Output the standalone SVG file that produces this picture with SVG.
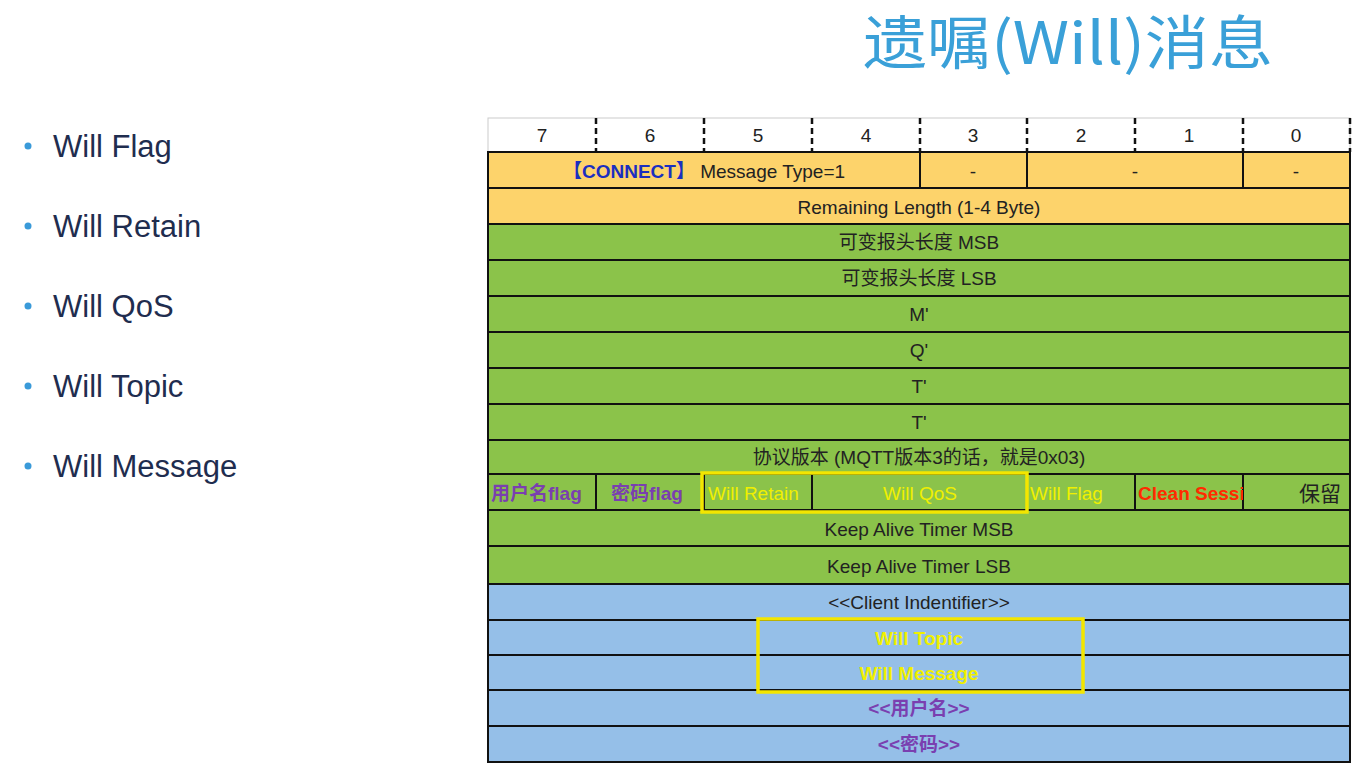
<svg xmlns="http://www.w3.org/2000/svg" width="1359" height="766" viewBox="0 0 1359 766">
<style>
.t{font-family:"Liberation Sans","Noto Sans CJK SC",sans-serif;font-size:19px;text-anchor:middle;fill:#222}
.s{text-anchor:start}
.b{font-family:"Liberation Sans",sans-serif;font-size:31px;fill:#1f2d4f}
.dot{fill:#3a9ad9}
.o{fill:#fdd36b;stroke:#111;stroke-width:2}
.g{fill:#8bc34a;stroke:#111;stroke-width:2}
.u{fill:#95bfe8;stroke:#111;stroke-width:2}
.y{fill:#f0f000}
.p{fill:#7a3fb0;font-weight:bold}
.hl{fill:none;stroke:#f3e600;stroke-width:3.5}
</style>
<defs>
<clipPath id="c0"><rect x="488" y="474" width="108" height="36"/></clipPath>
<clipPath id="c2"><rect x="704" y="474" width="108" height="36"/></clipPath>
<clipPath id="c5"><rect x="1027" y="474" width="108" height="36"/></clipPath>
<clipPath id="c6"><rect x="1135" y="474" width="108" height="36"/></clipPath>
</defs>
<rect width="1359" height="766" fill="#fff"/>
<text x="1068" y="64" font-family="'Noto Sans CJK SC','Liberation Sans',sans-serif" font-size="58" fill="#3aa0d8" text-anchor="middle" textLength="410" lengthAdjust="spacingAndGlyphs">遗嘱(Will)消息</text>
<g id="bullets">
<circle class="dot" cx="28" cy="146" r="3.5"/><text class="b" x="53" y="157">Will Flag</text>
<circle class="dot" cx="28" cy="226" r="3.5"/><text class="b" x="53" y="237">Will Retain</text>
<circle class="dot" cx="28" cy="306" r="3.5"/><text class="b" x="53" y="317">Will QoS</text>
<circle class="dot" cx="28" cy="386" r="3.5"/><text class="b" x="53" y="397">Will Topic</text>
<circle class="dot" cx="28" cy="466" r="3.5"/><text class="b" x="53" y="477">Will Message</text>
</g>
<g id="header">
<rect x="488" y="118" width="862" height="34" fill="#fff" stroke="#ccc" stroke-width="1"/>
<g stroke="#111" stroke-width="2.5" stroke-dasharray="6,4">
<line x1="596" y1="118" x2="596" y2="152"/><line x1="704" y1="118" x2="704" y2="152"/><line x1="812" y1="118" x2="812" y2="152"/><line x1="920" y1="118" x2="920" y2="152"/><line x1="1027" y1="118" x2="1027" y2="152"/><line x1="1135" y1="118" x2="1135" y2="152"/><line x1="1243" y1="118" x2="1243" y2="152"/><line x1="1350" y1="118" x2="1350" y2="152"/>
</g>
<text class="t" x="542" y="142">7</text><text class="t" x="650" y="142">6</text><text class="t" x="758" y="142">5</text><text class="t" x="866" y="142">4</text><text class="t" x="973" y="142">3</text><text class="t" x="1081" y="142">2</text><text class="t" x="1189" y="142">1</text><text class="t" x="1296" y="142">0</text>
</g>
<g id="fixed">
<rect class="o" x="488" y="152" width="432" height="36"/><rect class="o" x="920" y="152" width="107" height="36"/><rect class="o" x="1027" y="152" width="216" height="36"/><rect class="o" x="1243" y="152" width="107" height="36"/>
<text class="t" x="704" y="178"><tspan style="fill:#1a2fc0;font-weight:bold">【CONNECT】</tspan> Message Type=1</text>
<text class="t" x="973" y="178">-</text><text class="t" x="1135" y="178">-</text><text class="t" x="1296" y="178">-</text>
<rect class="o" x="488" y="188" width="862" height="36"/>
<text class="t" x="919" y="214">Remaining Length (1-4 Byte)</text>
</g>
<g id="variable">
<rect class="g" x="488" y="224" width="862" height="36"/><text class="t" x="919" y="249">可变报头长度 MSB</text>
<rect class="g" x="488" y="260" width="862" height="36"/><text class="t" x="919" y="285">可变报头长度 LSB</text>
<rect class="g" x="488" y="296" width="862" height="36"/><text class="t" x="919" y="321">M'</text>
<rect class="g" x="488" y="332" width="862" height="36"/><text class="t" x="919" y="357">Q'</text>
<rect class="g" x="488" y="368" width="862" height="36"/><text class="t" x="919" y="393">T'</text>
<rect class="g" x="488" y="404" width="862" height="36"/><text class="t" x="919" y="429">T'</text>
<rect class="g" x="488" y="440" width="862" height="34"/><text class="t" x="919" y="464">协议版本 (MQTT版本3的话，就是0x03)</text>
<rect class="g" x="488" y="474" width="108" height="36"/><rect class="g" x="596" y="474" width="108" height="36"/><rect class="g" x="704" y="474" width="108" height="36"/><rect class="g" x="812" y="474" width="215" height="36"/><rect class="g" x="1027" y="474" width="108" height="36"/><rect class="g" x="1135" y="474" width="108" height="36"/><rect class="g" x="1243" y="474" width="107" height="36"/>
<text class="t p s" x="491" y="500" clip-path="url(#c0)">用户名flag</text>
<text class="t p" x="647" y="500">密码flag</text>
<text class="t y s" x="708" y="500" clip-path="url(#c2)">Will Retain</text>
<text class="t y" x="920" y="500">Will QoS</text>
<text class="t y s" x="1030" y="500" clip-path="url(#c5)">Will Flag</text>
<text class="t s" x="1138" y="500" style="fill:#ff2a00;font-weight:bold" clip-path="url(#c6)">Clean Session</text>
<text class="t" x="1320" y="501" style="font-size:21px">保留</text>
<rect class="g" x="488" y="510" width="862" height="36"/><text class="t" x="919" y="536">Keep Alive Timer MSB</text>
<rect class="g" x="488" y="546" width="862" height="38"/><text class="t" x="919" y="573">Keep Alive Timer LSB</text>
</g>
<g id="payload">
<rect class="u" x="488" y="584" width="862" height="36"/><text class="t" x="919" y="609">&lt;&lt;Client Indentifier&gt;&gt;</text>
<rect class="u" x="488" y="620" width="862" height="35"/><text class="t y" x="919" y="645" style="font-weight:bold">Will Topic</text>
<rect class="u" x="488" y="655" width="862" height="35"/><text class="t y" x="919" y="680" style="font-weight:bold">Will Message</text>
<rect class="u" x="488" y="690" width="862" height="36"/><text class="t p" x="919" y="715">&lt;&lt;用户名&gt;&gt;</text>
<rect class="u" x="488" y="726" width="862" height="36"/><text class="t p" x="919" y="751">&lt;&lt;密码&gt;&gt;</text>
</g>
<g id="connectors">
<rect class="hl" x="702" y="473" width="325" height="39"/>
<rect class="hl" x="758" y="619" width="325" height="73"/>
</g>
</svg>
